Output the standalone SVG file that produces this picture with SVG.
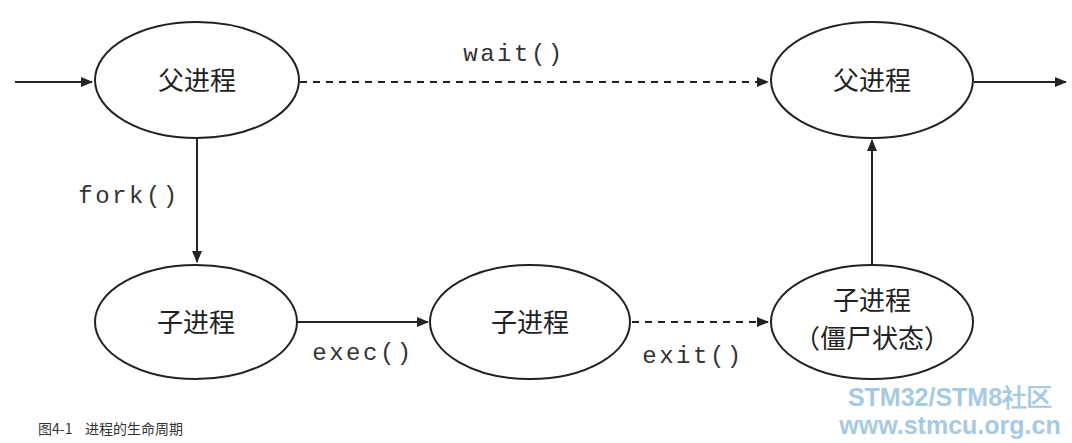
<svg xmlns="http://www.w3.org/2000/svg" width="1072" height="443" viewBox="0 0 1072 443">
<style>
.n{fill:#fff;stroke:#222;stroke-width:2}
.t{font-family:"Noto Sans CJK SC",sans-serif;font-size:26px;fill:#222;text-anchor:middle}
.c{stroke:#222;stroke-width:2;fill:none}
.d{stroke-dasharray:7,6}
.m{font-family:"Liberation Mono",monospace;font-size:24px;fill:#333;text-anchor:middle;letter-spacing:2.5px}
.w{font-family:"Liberation Sans",sans-serif;font-weight:bold;fill:#a6cae4;text-anchor:middle}
</style>
<defs><marker id="a" markerWidth="12" markerHeight="10" refX="11" refY="5" orient="auto" markerUnits="userSpaceOnUse"><path d="M0,0 L12,5 L0,10 Z" fill="#222"/></marker></defs>
<g id="connectors">
<line class="c" x1="15" y1="82" x2="92" y2="82" marker-end="url(#a)"/>
<line class="c d" x1="300" y1="82" x2="768" y2="82" marker-end="url(#a)"/>
<line class="c" x1="974" y1="82" x2="1066" y2="82" marker-end="url(#a)"/>
<line class="c" x1="197" y1="139" x2="197" y2="262" marker-end="url(#a)"/>
<line class="c" x1="296" y1="322" x2="428" y2="322" marker-end="url(#a)"/>
<line class="c d" x1="632" y1="322" x2="768" y2="322" marker-end="url(#a)"/>
<line class="c" x1="872" y1="265" x2="872" y2="140" marker-end="url(#a)"/>
<text class="m" x="514" y="61">wait()</text>
<text class="m" x="129" y="203">fork()</text>
<text class="m" x="363" y="360">exec()</text>
<text class="m" x="693" y="363">exit()</text>
</g>
<g id="p1"><ellipse class="n" cx="197" cy="80" rx="102" ry="58"/><text class="t" x="197" y="90">父进程</text></g>
<g id="p2"><ellipse class="n" cx="872" cy="80" rx="101" ry="58"/><text class="t" x="872" y="90">父进程</text></g>
<g id="c1"><ellipse class="n" cx="196" cy="322" rx="101" ry="57"/><text class="t" x="196" y="332">子进程</text></g>
<g id="c2"><ellipse class="n" cx="530" cy="322" rx="100" ry="57"/><text class="t" x="530" y="332">子进程</text></g>
<g id="c3"><ellipse class="n" cx="872" cy="322" rx="101" ry="57"/><text class="t" x="872" y="310">子进程</text><text class="t" x="872" y="348">（僵尸状态）</text></g>
<text x="38" y="434" xml:space="preserve" style="font-family:'Noto Sans CJK SC',sans-serif;font-size:14px;fill:#333;white-space:pre">图4-1    进程的生命周期</text>
<text class="w" x="950" y="406" font-size="25">STM32/STM8社区</text>
<text class="w" x="950" y="434" font-size="25">www.stmcu.org.cn</text>
</svg>
